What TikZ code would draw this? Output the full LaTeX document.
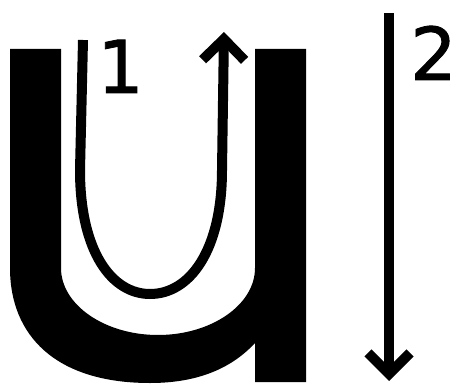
\documentclass[tikz,border=0pt]{standalone}
\usepackage{fontspec}
\newfontfamily\labelfont[FakeBold=1.2]{DejaVu Sans}
\usetikzlibrary{arrows.meta}
\tikzset{
  glyph/.style={fill=black, draw=none},
  stroke/.style={draw=black, line width=10pt, -{Straight Barb[length=21pt, width=42pt]}},
  numlabel/.style={inner sep=0pt, anchor=base, font=\labelfont\fontsize{73}{80}\selectfont}
}
\begin{document}
\begin{tikzpicture}[x=1pt, y=-1pt]
\useasboundingbox (0,0) rectangle (457,385);
% the letter u
\path[glyph] (10,49) -- (61,49) -- (61,268)
  .. controls (61,305) and (105,335) .. (158,335)
  .. controls (211,335) and (255,305) .. (255,268)
  -- (255,49) -- (306,49) -- (306,382) -- (255,382) -- (255,343)
  .. controls (230,370) and (195,383) .. (150,383)
  .. controls (55,383) and (10,335) .. (10,268) -- cycle;
% stroke 1
\coordinate (s1) at (83,40);
\coordinate (e1) at (224,32);
\draw[stroke] (s1) -- (80,170)
  .. controls (80,252) and (112,294) .. (150,294)
  .. controls (190,294) and (222,250) .. (222,170) -- (e1);
\node[numlabel] (n1) at (120.5,93) {1};
% stroke 2
\coordinate (s2) at (389,13);
\coordinate (e2) at (389,381);
\draw[stroke] (s2) -- (e2);
\node[numlabel] (n2) at (433.5,80) {2};
\end{tikzpicture}
\end{document}
